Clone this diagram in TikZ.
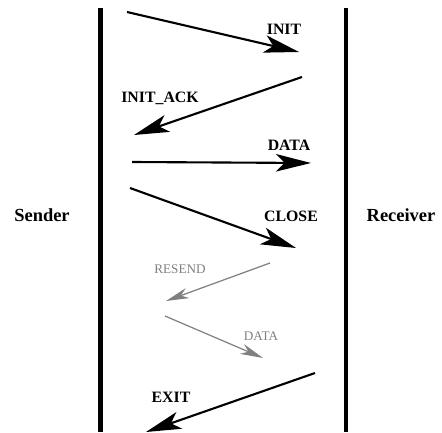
\documentclass[tikz,border=0pt]{standalone}
\usepackage{fontspec}
\setmainfont{Liberation Serif}
\usetikzlibrary{arrows.meta}
\tikzset{
  life/.style={line width=2.8pt},
  msg/.style={line width=1.2pt,-{Stealth[length=20pt,width=10pt,inset=5pt]}},
  lost/.style={line width=0.7pt,gray,-{Stealth[length=13pt,width=6pt,inset=4pt]}},
  lbl/.style={font=\fontsize{9}{10}\selectfont\bfseries},
  glbl/.style={font=\fontsize{7.5}{9}\selectfont,gray},
  side/.style={font=\fontsize{10.5}{12}\selectfont\bfseries}
}

\begin{document}
\begin{tikzpicture}[x=0.02cm,y=-0.02cm]
\useasboundingbox (0,0) rectangle (442,432);

%lifelines
\coordinate (stop) at (100.5,8);
\coordinate (sbot) at (100.5,432);
\coordinate (rtop) at (346,8);
\coordinate (rbot) at (346,432);
\draw [life] (stop) -- (sbot);
\draw [life] (rtop) -- (rbot);
\node [side] (sender) at (42,215) {Sender};
\node [side] (receiver) at (401,215) {Receiver};

%INIT
\coordinate (a1) at (127,12);
\coordinate (b1) at (299,52);
\draw [msg] (a1) -- (b1);
\node [lbl] (init) at (284,29) {INIT};

%INIT_ACK
\coordinate (a2) at (302,77);
\coordinate (b2) at (134,135);
\draw [msg] (a2) -- (b2);
\node [lbl] (initack) at (160,98) {INIT\_ACK};

%DATA
\coordinate (a3) at (132,162);
\coordinate (b3) at (311,163);
\draw [msg] (a3) -- (b3);
\node [lbl] (data) at (289,145) {DATA};

%CLOSE
\coordinate (a4) at (130,188);
\coordinate (b4) at (296,248);
\draw [msg] (a4) -- (b4);
\node [lbl] (close) at (291,216) {CLOSE};

%RESEND
\coordinate (a5) at (270,263);
\coordinate (b5) at (166,301);
\draw [lost] (a5) -- (b5);
\node [glbl] (resend) at (180,269) {RESEND};

%DATA again
\coordinate (a6) at (165,316);
\coordinate (b6) at (263,358);
\draw [lost] (a6) -- (b6);
\node [glbl] (data2) at (261,336) {DATA};

%EXIT
\coordinate (a7) at (315,373);
\coordinate (b7) at (146,432);
\draw [msg] (a7) -- (b7);
\node [lbl] (exit) at (171,397) {EXIT};
\end{tikzpicture}
\end{document}
